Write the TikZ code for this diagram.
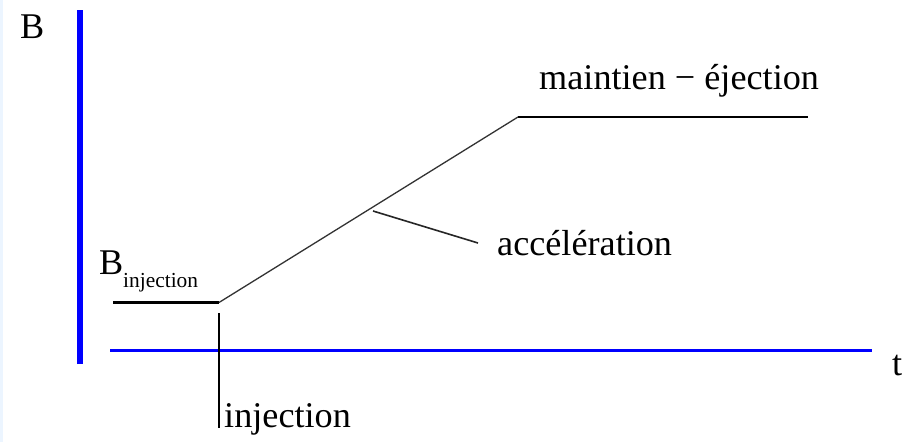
\documentclass[tikz,border=0pt]{standalone}
\usepackage{fontspec}
\setmainfont{Liberation Serif}
\newfontfamily\tms{Liberation Serif}
\definecolor{axisblue}{RGB}{0,0,255}
\definecolor{stripblue}{RGB}{236,245,255}
\begin{document}
\begin{tikzpicture}[x=1pt,y=-1pt,
  lbl/.style={inner sep=0pt,anchor=base west,font=\tms\fontsize{36.2}{40}\selectfont},
  sublbl/.style={inner sep=0pt,anchor=base west,font=\tms\fontsize{21.4}{24}\selectfont},
  axis/.style={draw=axisblue},
  curve/.style={draw=black,line width=2.2pt},
  ramp/.style={draw=black!80,line width=1.3pt},
  pointer/.style={draw=black!85,line width=1.6pt}]
\useasboundingbox (0,0) rectangle (915,442);
\fill[white] (0,0) rectangle (915,442);
\fill[stripblue] (0,0) rectangle (3,442);
% axes
\coordinate (yb) at (80,364);
\coordinate (yt) at (80,10);
\coordinate (xl) at (110,350.5);
\coordinate (xr) at (872,350.5);
\draw[axis,line width=6pt] (yb) -- (yt);
\draw[axis,line width=3pt] (xl) -- (xr);
% curve
\coordinate (c0) at (113,302.5);
\coordinate (c1) at (219,302.5);
\coordinate (c2) at (518,117);
\coordinate (c3) at (808,117);
\draw[curve] (c0) -- (c1);
\draw[ramp] (c1) -- (c2);
\draw[curve] (c2) -- (c3);
% injection marker
\coordinate (i0) at (219,313);
\coordinate (i1) at (219,428);
\draw[black,line width=2.2pt] (i0) -- (i1);
% pointer
\coordinate (p0) at (373,211);
\coordinate (p1) at (478,243);
\draw[pointer] (p0) -- (p1);
% labels
\node[lbl] (B) at (20,38) {B};
\node[lbl] (t) at (892,375) {t};
\node[lbl] (Binj) at (99,274) {B};
\node[sublbl] (Binjsub) at (123,287) {injection};
\node[lbl] (inj) at (224,427) {injection};
\node[lbl] (acc) at (497,255) {accélération};
\node[lbl] (mej) at (539,89) {maintien − éjection};
\end{tikzpicture}
\end{document}
